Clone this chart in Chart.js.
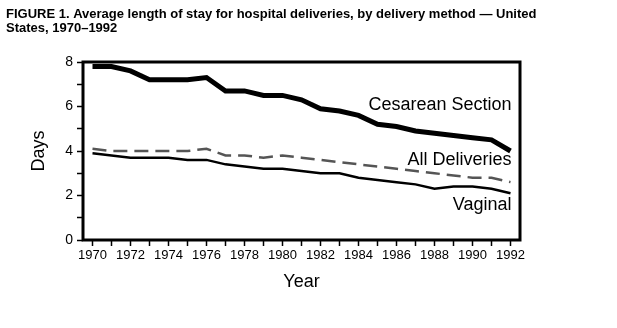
<!DOCTYPE html>
<html>
<head>
<meta charset="utf-8">
<style>
  html, body { margin: 0; padding: 0; background: #fff; }
  #wrap { width: 617px; height: 328px; position: relative; }
</style>
<script src="https://cdn.jsdelivr.net/npm/chart.js@4/dist/chart.umd.min.js"></script>
</head>
<body>
<div id="wrap"><canvas id="chart" width="617" height="328"></canvas></div>
<script>
// Years on the x axis
const years = [1970, 1971, 1972, 1973, 1974, 1975, 1976, 1977, 1978, 1979, 1980, 1981,
  1982, 1983, 1984, 1985, 1986, 1987, 1988, 1989, 1990, 1991, 1992];

// Average length of stay (days), by delivery method
const cesarean = [7.8, 7.8, 7.6, 7.2, 7.2, 7.2, 7.3, 6.7, 6.7, 6.5, 6.5, 6.3,
  5.9, 5.8, 5.6, 5.2, 5.1, 4.9, 4.8, 4.7, 4.6, 4.5, 4.0];
const allDeliveries = [4.1, 4.0, 4.0, 4.0, 4.0, 4.0, 4.1, 3.8, 3.8, 3.7, 3.8, 3.7,
  3.6, 3.5, 3.4, 3.3, 3.2, 3.1, 3.0, 2.9, 2.8, 2.8, 2.6];
const vaginal = [3.9, 3.8, 3.7, 3.7, 3.7, 3.6, 3.6, 3.4, 3.3, 3.2, 3.2, 3.1,
  3.0, 3.0, 2.8, 2.7, 2.6, 2.5, 2.3, 2.4, 2.4, 2.3, 2.1];

const titleLines = [
  'FIGURE 1. Average length of stay for hospital deliveries, by delivery method \u2014 United',
  'States, 1970\u20131992'
];

const FONT = '"Liberation Sans", Arial, Helvetica, sans-serif';

// frame, figure title and the in-plot series names
const decorations = {
  id: 'decorations',
  afterDraw(chart) {
    const { ctx, chartArea: a, scales } = chart;
    ctx.save();
    ctx.strokeStyle = '#000';
    ctx.lineWidth = 3;
    ctx.strokeRect(a.left, a.top, a.right - a.left, a.bottom - a.top);

    ctx.fillStyle = '#000';
    ctx.textBaseline = 'middle';
    ctx.textAlign = 'left';
    ctx.font = 'bold 13px ' + FONT;
    ctx.fillText(titleLines[0], 6, 14);
    ctx.fillText(titleLines[1], 6, 28);

    ctx.font = '18px ' + FONT;
    ctx.textAlign = 'right';
    const xr = scales.x.getPixelForValue(years.length - 1) + 1;
    ctx.fillText('Cesarean Section', xr, scales.y.getPixelForValue(6.08));
    ctx.fillText('All Deliveries', xr, scales.y.getPixelForValue(3.58));
    ctx.fillText('Vaginal', xr, scales.y.getPixelForValue(1.58));
    ctx.restore();
  }
};

new Chart(document.getElementById('chart'), {
  type: 'line',
  data: {
    labels: years,
    datasets: [
      {
        label: 'Cesarean Section',
        data: cesarean,
        borderColor: '#000',
        borderWidth: 5,
        pointRadius: 0,
        tension: 0
      },
      {
        label: 'All Deliveries',
        data: allDeliveries,
        borderColor: '#555',
        borderWidth: 2.5,
        borderDash: [14, 7],
        pointRadius: 0,
        tension: 0
      },
      {
        label: 'Vaginal',
        data: vaginal,
        borderColor: '#000',
        borderWidth: 2.5,
        pointRadius: 0,
        tension: 0
      }
    ]
  },
  options: {
    responsive: false,
    animation: false,
    layout: { padding: { top: 62, right: 97, left: 0, bottom: 0 } },
    plugins: {
      legend: { display: false },
      tooltip: { enabled: false }
    },
    scales: {
      x: {
        type: 'category',
        offset: true,
        afterFit(scale) { scale.height = 88; },
        grid: {
          offset: false,
          drawOnChartArea: false,
          drawTicks: true,
          tickLength: 6,
          tickWidth: 1.5,
          color: '#000'
        },
        border: { display: false },
        ticks: {
          autoSkip: false,
          maxRotation: 0,
          padding: 2,
          color: '#000',
          font: { family: FONT, size: 13 },
          callback(value, index) { return index % 2 === 0 ? String(years[index]) : ''; }
        },
        title: {
          display: true,
          text: 'Year',
          color: '#000',
          font: { family: FONT, size: 18 },
          padding: { top: 0, bottom: 35 }
        }
      },
      y: {
        min: 0,
        max: 8,
        afterFit(scale) { scale.width = 83; },
        grid: {
          drawOnChartArea: false,
          drawTicks: true,
          tickLength: 6,
          tickWidth: 1.5,
          color: '#000'
        },
        border: { display: false },
        ticks: {
          stepSize: 1,
          padding: 4,
          color: '#000',
          font: { family: FONT, size: 14 },
          callback(value) { return value % 2 === 0 ? String(value) : ''; }
        },
        title: {
          display: true,
          text: 'Days',
          color: '#000',
          font: { family: FONT, size: 18 },
          padding: { top: 28, bottom: 0 }
        }
      }
    }
  },
  plugins: [decorations]
});
</script>
</body>
</html>
